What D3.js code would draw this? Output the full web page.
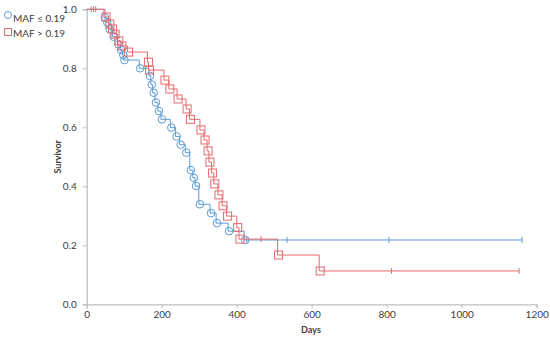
<!DOCTYPE html>
<html>
<head>
<meta charset="utf-8">
<script src="https://cdn.jsdelivr.net/npm/d3@7"></script>
<style>
  body { margin: 0; background: #fff; }
  text { font-family: Lato, "Open Sans", sans-serif; fill: #404040; }
</style>
</head>
<body>
<div id="viz"></div>
<script>
// Kaplan-Meier style step data
const groups = ['MAF \u2264 0.19', 'MAF > 0.19'];

const lowTimes = [46, 52, 59, 69, 82, 89, 95, 98, 140, 166, 171, 176, 182, 190, 198,
  223, 237, 248, 263, 275, 283, 289, 299, 329, 345, 377, 420];
const lowSurv = [0.972, 0.956, 0.932, 0.907, 0.881, 0.862, 0.845, 0.828, 0.800, 0.774,
  0.745, 0.717, 0.684, 0.655, 0.627, 0.599, 0.569, 0.541, 0.514, 0.455, 0.429, 0.401,
  0.339, 0.309, 0.275, 0.248, 0.218];
const lowCensor = [427, 534, 806, 1161];

const highTimes = [49, 59, 66, 73, 83, 91, 109, 162, 165, 206, 219, 241, 265, 274, 302,
  313, 321, 326, 333, 339, 350, 361, 373, 400, 406, 509, 620];
const highSurv = [0.974, 0.950, 0.933, 0.916, 0.893, 0.876, 0.855, 0.821, 0.794, 0.760,
  0.730, 0.696, 0.662, 0.627, 0.591, 0.557, 0.520, 0.482, 0.445, 0.408, 0.371, 0.334,
  0.299, 0.260, 0.221, 0.167, 0.113];
const highCensor = [12, 18, 24, 465, 813, 1153];

const xTicks = [0, 200, 400, 600, 800, 1000, 1200];
const yTicks = [0, 0.2, 0.4, 0.6, 0.8, 1.0];

const blue = '#5b9bd5';
const red = '#e46a6d';

const svg = d3.select('#viz')
      .append('svg')
      .attr('width', 550)
      .attr('height', 340);

const x = d3.scaleLinear().domain([0, 1200]).range([86.7, 536.7]);
const y = d3.scaleLinear().domain([0, 1]).range([304.3, 9.3]);

// axes
const axisColor = '#bfbfbf';

const yAxis = svg.append('g')
      .attr('transform', `translate(${x(0)} 0)`)
      .call(d3.axisLeft(y).tickValues(yTicks).tickFormat(d3.format('.1f')).tickSize(4).tickPadding(6));

const xAxis = svg.append('g')
      .attr('transform', `translate(0 ${y(0)})`)
      .call(d3.axisBottom(x).tickValues(xTicks).tickFormat(d3.format('d')).tickSize(4).tickPadding(3));

[xAxis, yAxis].forEach(a => {
    a.select('.domain').attr('stroke', axisColor).attr('stroke-width', 1.3);
    a.selectAll('.tick line').attr('stroke', axisColor);
    a.selectAll('.tick text')
        .style('font-family', 'Lato, "Open Sans", sans-serif')
        .attr('font-size', 10)
        .attr('fill', '#404040');
});

svg.append('text')
    .attr('x', 311)
    .attr('y', 333)
    .attr('text-anchor', 'middle')
    .attr('font-size', 9)
    .attr('font-weight', 'bold')
    .text('Days');

svg.append('text')
    .attr('transform', `translate(61 ${y(0.5)}) rotate(-90)`)
    .attr('text-anchor', 'middle')
    .attr('font-size', 9)
    .attr('font-weight', 'bold')
    .text('Survivor');

function survivalAt(times, surv, t) {
    let s = 1;
    for (let i = 0; i < times.length; i++) {
        if (times[i] <= t) s = surv[i];
    }
    return s;
}

function drawCurve(times, surv, censor, color, marker) {
    const end = d3.max(censor.concat(times));
    const pts = [[0, 1]].concat(times.map((t, i) => [t, surv[i]]));
    pts.push([end, surv[surv.length - 1]]);

    const line = d3.line()
          .x(d => x(d[0]))
          .y(d => y(d[1]))
          .curve(d3.curveStepAfter);

    const g = svg.append('g')
          .attr('stroke', color)
          .attr('fill', 'none')
          .attr('stroke-width', 1);

    g.append('path').attr('d', line(pts));

    // censor ticks
    g.selectAll('line.censor')
        .data(censor)
        .join('line')
        .attr('class', 'censor')
        .attr('x1', d => x(d))
        .attr('x2', d => x(d))
        .attr('y1', d => y(survivalAt(times, surv, d)) - 3)
        .attr('y2', d => y(survivalAt(times, surv, d)) + 3);

    // event markers
    if (marker === 'circle') {
        g.selectAll('circle')
            .data(times)
            .join('circle')
            .attr('cx', (d) => x(d) + 1)
            .attr('cy', (d, i) => y(surv[i]))
            .attr('r', 3.8);
    } else {
        g.selectAll('rect')
            .data(times)
            .join('rect')
            .attr('x', (d) => x(d) + 1 - 4)
            .attr('y', (d, i) => y(surv[i]) - 4)
            .attr('width', 8)
            .attr('height', 8);
    }
}

drawCurve(lowTimes, lowSurv, lowCensor, blue, 'circle');
drawCurve(highTimes, highSurv, highCensor, red, 'square');

// legend
const legend = svg.append('g');

legend.append('circle')
    .attr('cx', 8)
    .attr('cy', 15)
    .attr('r', 3.5)
    .attr('fill', 'none')
    .attr('stroke', blue);

legend.append('rect')
    .attr('x', 4.5)
    .attr('y', 28.5)
    .attr('width', 7)
    .attr('height', 7)
    .attr('fill', 'none')
    .attr('stroke', red);

legend.selectAll('text')
    .data(groups)
    .join('text')
    .attr('x', 13)
    .attr('y', (d, i) => 21.5 + i * 15.5)
    .attr('font-size', 10)
    .text(d => d);
</script>
</body>
</html>
